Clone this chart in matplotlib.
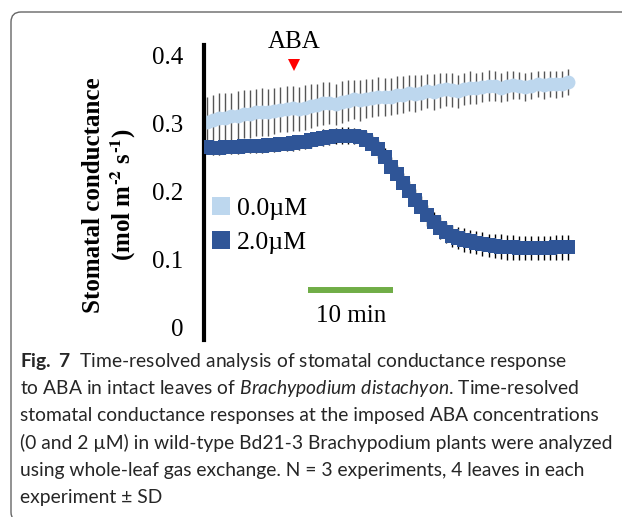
import numpy as np
import matplotlib
matplotlib.use('Agg')
import matplotlib.pyplot as plt
from matplotlib.lines import Line2D
from matplotlib.patches import FancyBboxPatch

# time step between readings (min)
step = 0.72

# 0.0 uM ABA, mean and SD
gs_0 = [0.302, 0.305, 0.307, 0.308, 0.310, 0.311, 0.313, 0.314, 0.316, 0.317,
        0.316, 0.318, 0.320, 0.321, 0.322, 0.321, 0.323, 0.325, 0.327, 0.329,
        0.330, 0.328, 0.331, 0.333, 0.335, 0.334, 0.336, 0.337, 0.339, 0.338,
        0.339, 0.341, 0.342, 0.344, 0.343, 0.345, 0.347, 0.346, 0.348, 0.350,
        0.349, 0.347, 0.350, 0.352, 0.351, 0.353, 0.355, 0.354, 0.352, 0.354,
        0.356, 0.355, 0.353, 0.355, 0.357, 0.356, 0.358, 0.357, 0.358, 0.360]
sd_0 = [0.036, 0.036, 0.037, 0.036, 0.035, 0.036, 0.035, 0.035, 0.034, 0.035,
        0.034, 0.034, 0.033, 0.034, 0.033, 0.032, 0.033, 0.032, 0.031, 0.032,
        0.031, 0.030, 0.031, 0.030, 0.029, 0.030, 0.029, 0.028, 0.029, 0.028,
        0.027, 0.028, 0.027, 0.026, 0.027, 0.026, 0.025, 0.026, 0.025, 0.024,
        0.025, 0.024, 0.023, 0.024, 0.023, 0.022, 0.023, 0.022, 0.021, 0.022,
        0.021, 0.020, 0.021, 0.020, 0.019, 0.020, 0.019, 0.020, 0.019, 0.019]

# 2.0 uM ABA, mean and SD
gs_2 = [0.265, 0.264, 0.264, 0.265, 0.265, 0.265, 0.266, 0.266, 0.267, 0.267,
        0.268, 0.268, 0.269, 0.270, 0.271, 0.272, 0.273, 0.275, 0.277, 0.279,
        0.280, 0.281, 0.282, 0.282, 0.281, 0.280, 0.276, 0.270, 0.262, 0.250,
        0.236, 0.225, 0.213, 0.200, 0.188, 0.178, 0.165, 0.155, 0.146, 0.140,
        0.135, 0.132, 0.129, 0.127, 0.125, 0.123, 0.121, 0.120, 0.119, 0.118,
        0.118, 0.117, 0.117, 0.117, 0.117, 0.117, 0.117, 0.118, 0.118, 0.118]
sd_2 = [0.010, 0.010, 0.010, 0.010, 0.010, 0.010, 0.010, 0.010, 0.010, 0.010,
        0.010, 0.010, 0.010, 0.010, 0.011, 0.011, 0.011, 0.011, 0.011, 0.012,
        0.012, 0.012, 0.012, 0.012, 0.012, 0.012, 0.012, 0.013, 0.013, 0.013,
        0.014, 0.014, 0.014, 0.015, 0.015, 0.015, 0.015, 0.015, 0.016, 0.016,
        0.016, 0.016, 0.017, 0.017, 0.017, 0.017, 0.017, 0.018, 0.018, 0.018,
        0.018, 0.018, 0.018, 0.018, 0.018, 0.018, 0.018, 0.018, 0.018, 0.018]

labels = ['0.0\u00b5M', '2.0\u00b5M']
colors = ['#bdd7ee', '#2f5597']
err_colors = ['#555555', '#000000']
yticks = [0, 0.1, 0.2, 0.3, 0.4]
ytick_labels = ['0', '0.1', '0.2', '0.3', '0.4']
aba_time = 10.2
bar_start, bar_len = 11.9, 10

t = np.arange(len(gs_0)) * step

cap_font = 'Lato'
plt.rcParams['font.family'] = 'Liberation Serif'
plt.rcParams['mathtext.fontset'] = 'custom'
plt.rcParams['mathtext.rm'] = cap_font
plt.rcParams['mathtext.it'] = cap_font + ':italic'
plt.rcParams['mathtext.bf'] = cap_font + ':bold'

fig = plt.figure(figsize=(6.22, 5.17), dpi=100)
ax = fig.add_axes([0.328, 0.3424, 0.609, 0.5706])

ax.errorbar(t, gs_0, yerr=sd_0, fmt='o', color=colors[0], ms=10, mew=0,
            ecolor=err_colors[0], elinewidth=1.0, capsize=3.6, capthick=1.0, zorder=2)
ax.errorbar(t, gs_2, yerr=sd_2, fmt='s', color=colors[1], ms=9.4, mew=0,
            ecolor=err_colors[1], elinewidth=1.0, capsize=3.6, capthick=1.0, zorder=3)

ax.set_xlim(-0.35, 44.2)
ax.set_ylim(-0.0176, 0.4147)
ax.set_yticks(yticks)
ax.set_yticklabels(ytick_labels, fontsize=18)
ax.tick_params(axis='y', length=0, pad=15)
ax.set_xticks([])
for s in ['top', 'right', 'bottom']:
    ax.spines[s].set_visible(False)
ax.spines['left'].set_linewidth(3)
ax.spines['left'].set_color('black')

# ABA addition
ax.plot([aba_time], [0.385], marker='v', color='red', ms=9, mew=0, clip_on=False, zorder=5)
ax.text(aba_time, 0.419, 'ABA', ha='center', va='center', fontsize=18, clip_on=False)

# scale bar
ax.plot([bar_start, bar_start + bar_len], [0.056, 0.056], color='#70ad47', lw=4.3,
        solid_capstyle='butt')
ax.text(bar_start + bar_len / 2, 0.018, '10 min', ha='center', va='center', fontsize=18)

handles = [Line2D([], [], ls='none', marker='s', ms=13, mew=0, color=c) for c in colors]
ax.legend(handles, labels, loc='upper left', bbox_to_anchor=(0.021, 0.485), frameon=False,
          fontsize=18.5, handlelength=0.7, handletextpad=0.27, labelspacing=0.42,
          borderaxespad=0, borderpad=0)

ylab = fig.text(0.177, 0.623,
                'Stomatal conductance\n(mol m$^{\\mathbf{\u20102}}$ s$^{\\mathbf{\u20101}}$)',
                rotation=90, ha='center', va='center', fontsize=18, fontweight='bold',
                linespacing=1.15)
ylab.set_math_fontfamily('stix')

# caption
cap_lines = [
    '$\\mathbf{Fig.\\ 7}$  Time-resolved analysis of stomatal conductance response',
    'to ABA in intact leaves of $\\mathit{Brachypodium\\ distachyon}$. Time-resolved',
    'stomatal conductance responses at the imposed ABA concentrations',
    '(0 and 2 \u00b5M) in wild-type Bd21-3 Brachypodium plants were analyzed',
    'using whole-leaf gas exchange. N = 3 experiments, 4 leaves in each',
    'experiment \u00b1 SD',
]
cap_texts = []
for k, line in enumerate(cap_lines):
    y_px = 367 + 27.2 * k
    cap_texts.append(fig.text(20 / 622, 1 - y_px / 517, line, ha='left', va='baseline',
                              fontsize=14, family=cap_font, color='#262626'))

# shrink caption so the widest line fits the panel width
renderer = fig.canvas.get_renderer()
widest = max(tx.get_window_extent(renderer).width for tx in cap_texts)
for tx in cap_texts:
    tx.set_fontsize(14 * 595 / widest)

# frame round the figure panel
frame = FancyBboxPatch((0.11, -0.05), 8, 5.10, boxstyle='round,pad=0,rounding_size=0.1',
                       transform=fig.dpi_scale_trans, fill=False, ec='#666666', lw=1.0)
fig.patches.append(frame)

fig.savefig('out.png', dpi=100)
